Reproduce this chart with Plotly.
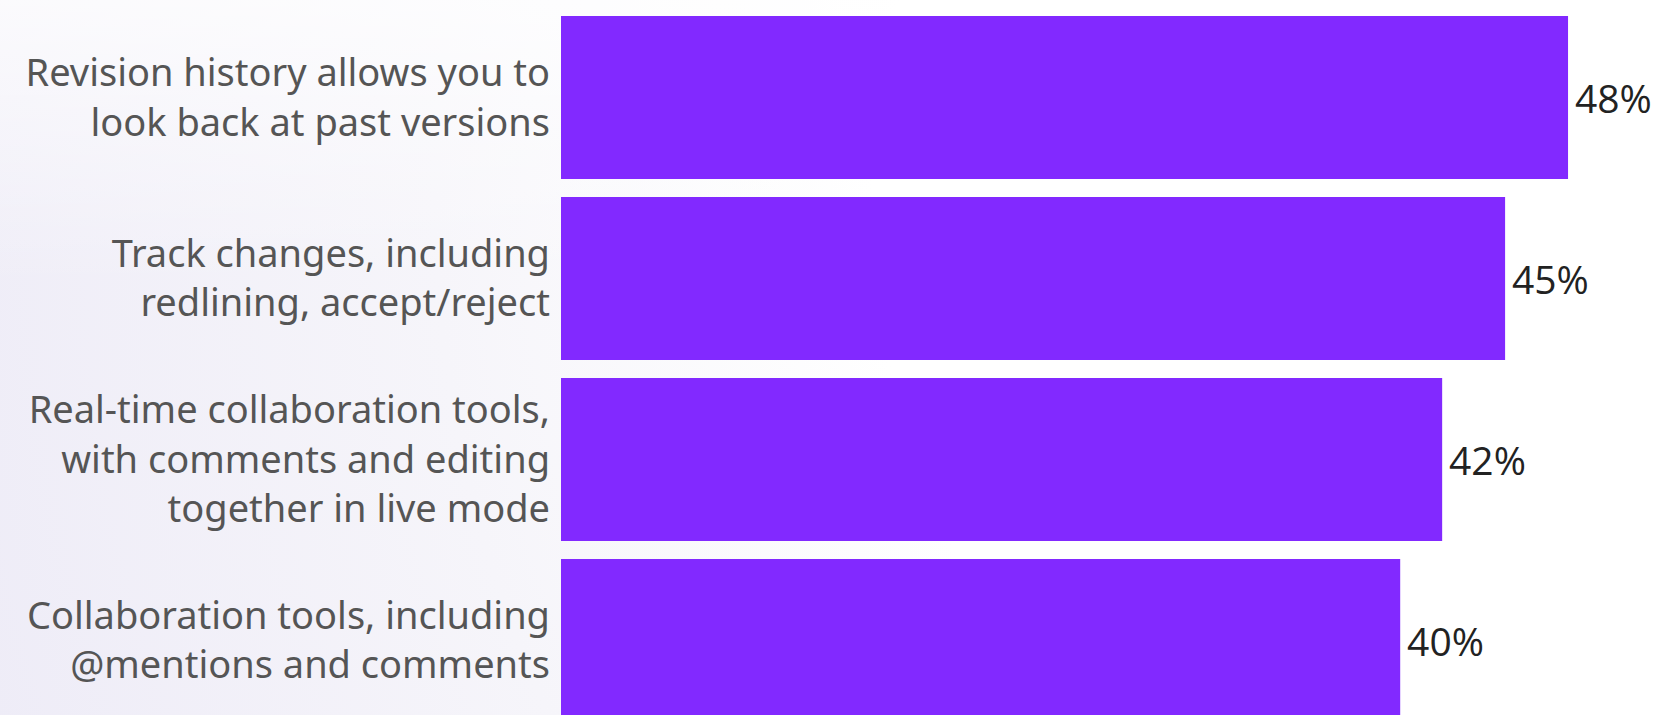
import base64
import plotly.graph_objects as go

# Survey results: share of respondents selecting each feature
features = [
    "Revision history allows you to<br>look back at past versions",
    "Track changes, including<br>redlining, accept/reject",
    "Real-time collaboration tools,<br>with comments and editing<br>together in live mode",
    "Collaboration tools, including<br>@mentions and comments",
]
shares = [48, 45, 42, 40]

W, H = 1661, 715
ML = 561  # left margin reserved for the feature labels
BAR_COLOR = "#8229ff"

# soft lavender-to-white backdrop
svg = f"""<svg xmlns="http://www.w3.org/2000/svg" width="{W}" height="{H}" viewBox="0 0 {W} {H}" preserveAspectRatio="none">
<defs>
<radialGradient id="g" gradientUnits="userSpaceOnUse" cx="{W}" cy="200" r="1750">
<stop offset="0" stop-color="#ffffff"/>
<stop offset="0.45" stop-color="#ffffff"/>
<stop offset="0.7" stop-color="#f6f5fa"/>
<stop offset="1" stop-color="#eeecf7"/>
</radialGradient>
<linearGradient id="t" x1="0" y1="0" x2="0" y2="1">
<stop offset="0" stop-color="#ffffff" stop-opacity="0.75"/>
<stop offset="0.4" stop-color="#ffffff" stop-opacity="0"/>
</linearGradient>
</defs>
<rect width="{W}" height="{H}" fill="url(#g)"/>
<rect width="{W}" height="{H}" fill="url(#t)"/>
</svg>"""
bg_uri = "data:image/svg+xml;base64," + base64.b64encode(svg.encode()).decode()

fig = go.Figure(
    go.Bar(
        x=shares,
        y=features,
        orientation="h",
        marker=dict(color=BAR_COLOR, line=dict(width=0)),
        text=shares,
        texttemplate="\u200a%{x}%",
        textposition="outside",
        constraintext="none",
        cliponaxis=False,
        textfont=dict(family="Open Sans", size=39, color="#222222"),
        hoverinfo="skip",
    )
)

plot_w = W - ML
fig.update_layout(
    width=W,
    height=H,
    margin=dict(l=ML, r=0, t=0, b=0, pad=0),
    paper_bgcolor="#f7f6fa",
    plot_bgcolor="rgba(0,0,0,0)",
    bargap=0.1,
    showlegend=False,
    images=[
        dict(
            source=bg_uri,
            xref="paper",
            yref="paper",
            x=-ML / plot_w,
            y=1,
            sizex=W / plot_w,
            sizey=1,
            xanchor="left",
            yanchor="top",
            sizing="stretch",
            layer="below",
        )
    ],
    xaxis=dict(
        range=[0, plot_w / 20.98],
        visible=False,
        fixedrange=True,
    ),
    yaxis=dict(
        type="category",
        categoryorder="array",
        categoryarray=features,
        range=[3.412, -0.539],
        showgrid=False,
        zeroline=False,
        showline=False,
        ticks="",
        ticklabelstandoff=10,
        tickfont=dict(family="Noto Sans", size=38, color="#555555"),
        fixedrange=True,
    ),
)

fig.write_html("out.html")
